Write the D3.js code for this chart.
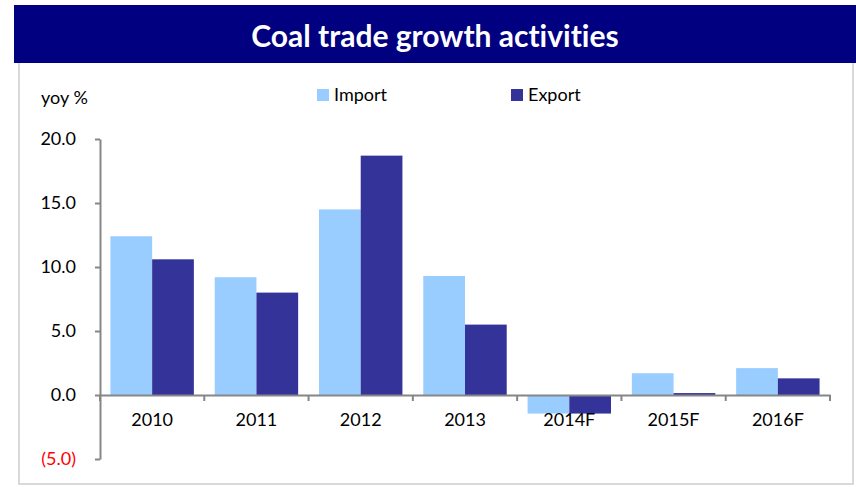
<!DOCTYPE html>
<html>
<head>
<meta charset="utf-8">
<script src="https://cdn.jsdelivr.net/npm/d3@7"></script>
<style>
  html, body { margin: 0; padding: 0; background: #fff; }
  svg { display: block; }
  text { font-family: Lato, "Open Sans", sans-serif; font-variant-ligatures: none; }
</style>
</head>
<body>
<svg id="chart" width="856" height="487"></svg>
<script>
// Coal trade growth, year on year (%)
const categories = ["2010", "2011", "2012", "2013", "2014F", "2015F", "2016F"];
const importValues = [12.4, 9.2, 14.5, 9.3, -1.45, 1.7, 2.1];
const exportValues = [10.6, 8.0, 18.7, 5.5, -1.45, 0.15, 1.3];
const seriesNames = ["Import", "Export"];
const seriesColors = ["#99CCFF", "#333399"];
const yTicks = [-5, 0, 5, 10, 15, 20];

const svg = d3.select("#chart");
const W = 856, H = 487;

// outer frame
svg.append("rect")
  .attr("x", 19).attr("y", 40)
  .attr("width", 834).attr("height", 444)
  .attr("fill", "none")
  .attr("stroke", "#d9d9d9")
  .attr("stroke-width", 2);

// title banner
svg.append("rect")
  .attr("x", 14).attr("y", 5)
  .attr("width", W - 14).attr("height", 58)
  .attr("fill", "#000080");
svg.append("text")
  .attr("x", 435).attr("y", 35)
  .attr("text-anchor", "middle")
  .attr("dominant-baseline", "central")
  .attr("fill", "#fff")
  .attr("font-size", 30)
  .attr("font-weight", "bold")
  .text("Coal trade growth activities");

const plot = { left: 100, right: 830, top: 139, bottom: 459 };

const y = d3.scaleLinear().domain([-5, 20]).range([plot.bottom, plot.top]);
const x0 = d3.scaleBand().domain(categories).range([plot.left, plot.right]).paddingInner(0.2).paddingOuter(0.1);
const x1 = d3.scaleBand().domain(seriesNames).range([0, x0.bandwidth()]);
const xCat = d3.scaleBand().domain(categories).range([plot.left, plot.right]);

const rows = categories.map((c, i) => ({ cat: c, values: [importValues[i], exportValues[i]] }));

// bars
const groups = svg.append("g").selectAll("g").data(rows).join("g")
  .attr("transform", d => `translate(${x0(d.cat)},0)`);
groups.selectAll("rect")
  .data(d => d.values.map((v, k) => ({ v, k })))
  .join("rect")
  .attr("x", d => x1(seriesNames[d.k]))
  .attr("width", x1.bandwidth())
  .attr("y", d => y(Math.max(0, d.v)))
  .attr("height", d => Math.abs(y(d.v) - y(0)))
  .attr("fill", d => seriesColors[d.k]);

const axisColor = "#868686";

// y axis
const yAxis = svg.append("g")
  .attr("transform", `translate(${plot.left},0)`)
  .call(d3.axisLeft(y).tickValues(yTicks).tickSize(5).tickSizeOuter(0)
    .tickFormat(v => v < 0 ? `(${Math.abs(v).toFixed(1)})` : v.toFixed(1)));
yAxis.select(".domain").attr("stroke", axisColor).attr("stroke-width", 2);
yAxis.selectAll(".tick line").attr("stroke", axisColor).attr("stroke-width", 2);
yAxis.selectAll(".tick text")
  .attr("x", -24)
  .attr("font-size", 18)
  .attr("fill", d => d < 0 ? "#ff0000" : "#000")
  .style("font-family", "Lato, sans-serif");

// x axis at zero
const xAxis = svg.append("g")
  .attr("transform", `translate(0,${y(0)})`)
  .call(d3.axisBottom(xCat).tickSize(0).tickSizeOuter(0));
xAxis.select(".domain").attr("stroke", axisColor).attr("stroke-width", 2);
xAxis.selectAll(".tick text")
  .attr("y", 18)
  .attr("font-size", 18)
  .attr("fill", "#000")
  .style("font-family", "Lato, sans-serif");
// category boundary ticks
const bounds = categories.map(c => xCat(c)).concat([plot.right]);
svg.append("g").selectAll("line").data(bounds).join("line")
  .attr("x1", d => d).attr("x2", d => d)
  .attr("y1", y(0)).attr("y2", y(0) + 6)
  .attr("stroke", axisColor).attr("stroke-width", 2);

// axis unit label
svg.append("text")
  .attr("x", 41).attr("y", 104)
  .attr("font-size", 18)
  .text("yoy %");

// legend
const legendX = [317, 511];
const legend = svg.append("g").selectAll("g").data(seriesNames).join("g")
  .attr("transform", (d, i) => `translate(${legendX[i]},89)`);
legend.append("rect").attr("width", 12).attr("height", 12)
  .attr("fill", (d, i) => seriesColors[i]);
legend.append("text").attr("x", 17).attr("y", 12)
  .attr("font-size", 18)
  .text(d => d);
</script>
</body>
</html>
